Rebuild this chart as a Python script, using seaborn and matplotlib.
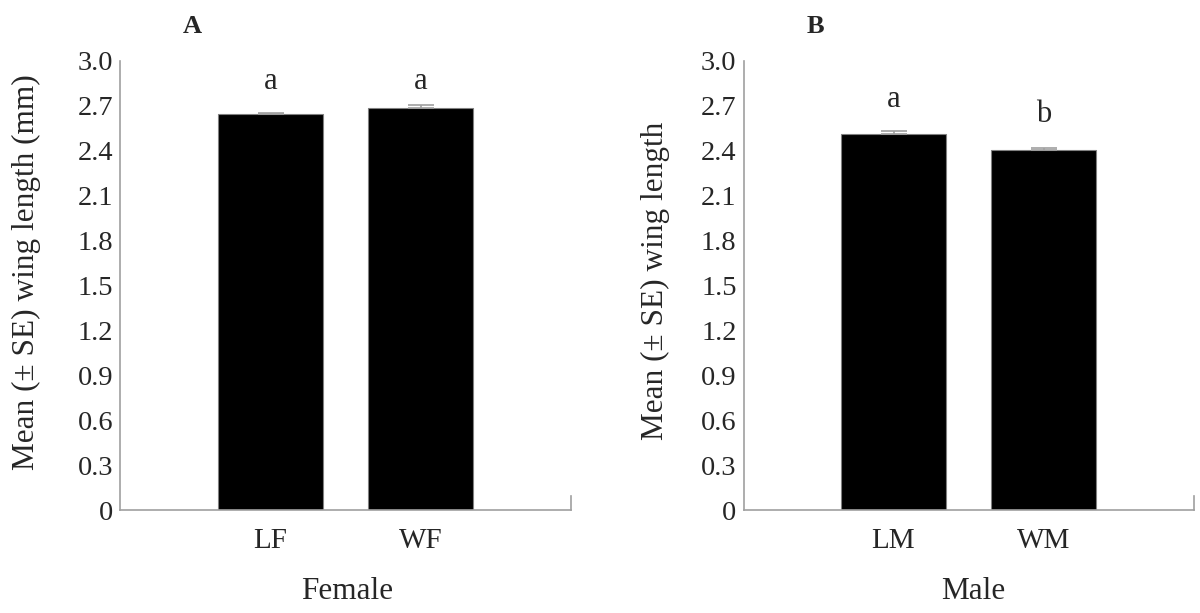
import matplotlib
matplotlib.use("Agg")
import matplotlib.pyplot as plt
import seaborn as sns
import pandas as pd

# ---- data ----
female_groups = ["LF", "WF"]
female_means = [2.642, 2.682]
female_se = [0.012, 0.024]
female_letters = ["a", "a"]
female_letter_y = [2.81, 2.81]

male_groups = ["LM", "WM"]
male_means = [2.510, 2.401]
male_se = [0.018, 0.014]
male_letters = ["a", "b"]
male_letter_y = [2.693, 2.59]

y_ticks = [0, 0.3, 0.6, 0.9, 1.2, 1.5, 1.8, 2.1, 2.4, 2.7, 3.0]
y_tick_labels = ["0", "0.3", "0.6", "0.9", "1.2", "1.5", "1.8", "2.1", "2.4", "2.7", "3.0"]

sns.set_style("white")
plt.rcParams["font.family"] = ["Liberation Serif", "DejaVu Serif"]

fig = plt.figure(figsize=(12, 6.13), dpi=100)
W, H = 1200, 613
axA = fig.add_axes([120.3 / W, 1 - 510 / H, (571 - 120.3) / W, (510 - 60.7) / H])
axB = fig.add_axes([743.5 / W, 1 - 510 / H, (1193.5 - 743.5) / W, (510 - 60.7) / H])

spine_col = "#a0a0a0"


def panel(ax, groups, means, se, letters, letter_y, ylabel, xlabel, title,
          ylab_xy, xlab_x):
    df = pd.DataFrame({"group": groups, "mean": means})
    sns.barplot(data=df, x="group", y="mean", ax=ax, color="black",
                width=0.70, edgecolor="#808080", linewidth=0.8,
                errorbar=None, saturation=1)
    ax.errorbar(range(len(groups)), means, yerr=[[0] * len(se), se],
                fmt="none", ecolor="#a0a0a0", elinewidth=1.2, capsize=9.5,
                capthick=1.2)
    for i, (lt, ly) in enumerate(zip(letters, letter_y)):
        ax.text(i, ly, lt, ha="center", va="baseline", fontsize=22)
    ax.set_xlim(-1, 2)
    ax.set_ylim(0, 3.0)
    ax.set_yticks(y_ticks)
    ax.set_yticklabels(y_tick_labels)
    ax.tick_params(axis="y", direction="in", length=10, width=1,
                   color=spine_col, labelsize=20.5, pad=5)
    ax.tick_params(axis="x", length=0, labelsize=21, pad=13)
    for s in ["left", "bottom", "right"]:
        ax.spines[s].set_color(spine_col)
        ax.spines[s].set_linewidth(1.2)
    ax.spines["top"].set_visible(False)
    ax.spines["right"].set_bounds(0, 0.093)
    ax.set_ylabel(ylabel, fontsize=22.5)
    ax.yaxis.set_label_coords(*ylab_xy)
    ax.set_xlabel(xlabel, fontsize=22.5)
    ax.xaxis.set_label_coords(xlab_x, -0.15)
    ax.text(title[1], 1.0616, title[0], transform=ax.transAxes,
            fontsize=19, fontweight="bold", ha="left", va="baseline")


panel(axA, female_groups, female_means, female_se, female_letters,
      female_letter_y, "Mean (\u00b1 SE) wing length (mm)", "Female",
      ("A", (183 - 120.3) / 450.7), (-0.176, 0.53), 0.504)
panel(axB, male_groups, male_means, male_se, male_letters,
      male_letter_y, "Mean (\u00b1 SE) wing length", "Male",
      ("B", (807 - 743.5) / 450), (-0.163, 0.509), 0.51)

fig.savefig("out.png", dpi=100)
